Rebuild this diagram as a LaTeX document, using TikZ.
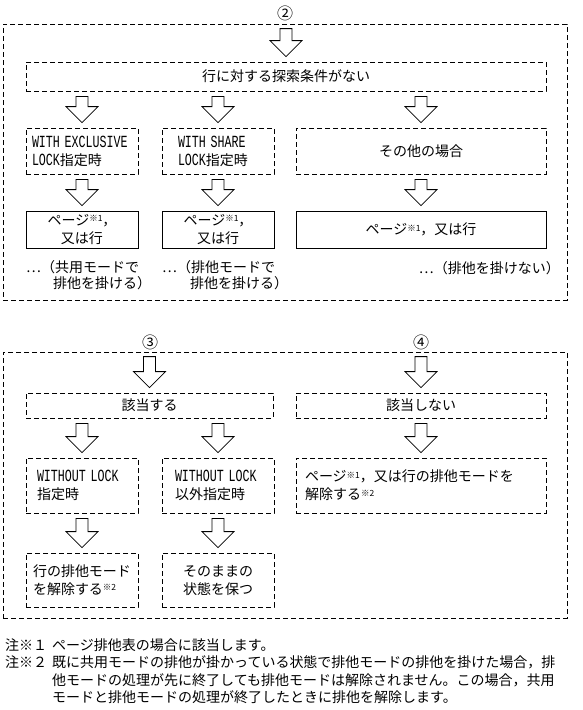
\documentclass[tikz,border=0pt]{standalone}
\usepackage{fontspec}
\setmainfont{Noto Sans CJK JP}
\newfontfamily\latfont[FakeStretch=0.686]{Liberation Mono}
\usetikzlibrary{calc}
\newcommand\LT[1]{{\latfont\fontsize{17pt}{18pt}\selectfont #1}}
\newcommand\kome[1]{\raisebox{3.5pt}{\fontsize{8.5pt}{8.5pt}\selectfont ※#1}}
\newcommand\blockarrow[2]{%
  \draw[barrow] let \p1=(#2.north), \p2=(#1) in
    (\x1-6pt,\y2-5pt) -- (\x1+6pt,\y2-5pt) -- (\x1+6pt,\y1+21pt)
    -- (\x1+16pt,\y1+21pt) -- (\x1,\y1+5pt) -- (\x1-16pt,\y1+21pt)
    -- (\x1-6pt,\y1+21pt) -- cycle;}
\tikzset{
  dbox/.style={draw, line width=0.8pt, dash pattern=on 5pt off 3pt, inner sep=0pt},
  sbox/.style={draw, line width=0.8pt, inner sep=0pt},
  barrow/.style={draw, line width=0.8pt, fill=white, line join=miter},
  txt/.style={inner sep=0pt, anchor=base west},
  txte/.style={inner sep=0pt, anchor=base east},
  num/.style={inner sep=0pt, font=\fontsize{16pt}{16pt}\selectfont},
}
\begin{document}
\begin{tikzpicture}[x=1pt, y=-1pt, font=\fontsize{14pt}{18pt}\selectfont]
\useasboundingbox (0,0) rectangle (582,710);
% ---- section 2
\node[dbox, minimum width=564pt, minimum height=276pt] (o2) at (285,162) {};
\node[num] (c2) at (285,13) {②};
\node[dbox, minimum width=520pt, minimum height=29pt] (q) at (286,76.5) {行に対する探索条件がない};
\node[dbox, minimum width=112pt, minimum height=46pt, text width=100pt, align=left] (a1) at (82,151) {\LT{WITH EXCLUSIVE}\\\LT{LOCK}指定時};
\node[dbox, minimum width=112pt, minimum height=46pt, text width=80pt, align=left] (a2) at (218,151) {\LT{WITH SHARE}\\\LT{LOCK}指定時};
\node[dbox, minimum width=250pt, minimum height=46pt] (a3) at (421,151) {その他の場合};
\node[sbox, minimum width=112pt, minimum height=37pt, align=center] (b1) at (82,229.5) {ページ\kome{1}，\\又は行};
\node[sbox, minimum width=112pt, minimum height=37pt, align=center] (b2) at (218,229.5) {ページ\kome{1}，\\又は行};
\node[sbox, minimum width=250pt, minimum height=37pt] (b3) at (421,229.5) {ページ\kome{1}，又は行};
\node[txt] (n1a) at (26,272) {…（共用モードで};
\node[txt] (n1b) at (53,288) {排他を掛ける）};
\node[txt] (n2a) at (162,272) {…（排他モードで};
\node[txt] (n2b) at (190,288) {排他を掛ける）};
\node[txte] (n3) at (560,273) {…（排他を掛けない）};
\blockarrow{o2.north}{q}
\blockarrow{q.south}{a1}
\blockarrow{q.south}{a2}
\blockarrow{q.south}{a3}
\blockarrow{a1.south}{b1}
\blockarrow{a2.south}{b2}
\blockarrow{a3.south}{b3}
% ---- section 3/4
\node[dbox, minimum width=564pt, minimum height=266pt] (o3) at (285,485) {};
\node[num] (c3) at (150,342) {③};
\node[num] (c4) at (421,342) {④};
\node[dbox, minimum width=247pt, minimum height=25pt] (r) at (149.5,405.5) {該当する};
\node[dbox, minimum width=250pt, minimum height=25pt] (s) at (421,405.5) {該当しない};
\node[dbox, minimum width=112pt, minimum height=55pt, text width=90pt, align=left] (r1) at (82,485.5) {\LT{WITHOUT LOCK}\\指定時};
\node[dbox, minimum width=112pt, minimum height=55pt, text width=86pt, align=left] (r2) at (218,485.5) {\LT{WITHOUT LOCK}\\以外指定時};
\node[dbox, minimum width=250pt, minimum height=55pt, text width=232pt, align=left] (s1) at (421,485.5) {ページ\kome{1}，又は行の排他モードを\\解除する\kome{2}};
\node[dbox, minimum width=112pt, minimum height=54pt, text width=98pt, align=left] (t1) at (82,580) {行の排他モード\\を解除する\kome{2}};
\node[dbox, minimum width=112pt, minimum height=54pt, align=center] (t2) at (218,580) {そのままの\\状態を保つ};
\blockarrow{o3.north}{r}
\blockarrow{o3.north}{s}
\blockarrow{r.south}{r1}
\blockarrow{r.south}{r2}
\blockarrow{s.south}{s1}
\blockarrow{r1.south}{t1}
\blockarrow{r2.south}{t2}
% ---- footnotes
\node[txt] (f1) at (5,650) {注※１};
\node[txt] (f1t) at (52,650) {ページ排他表の場合に該当します。};
\node[txt] (f2) at (5,667) {注※２};
\node[txt] (f2t) at (52,667) {既に共用モードの排他が掛かっている状態で排他モードの排他を掛けた場合，排};
\node[txt] (f2u) at (52,685) {他モードの処理が先に終了しても排他モードは解除されません。この場合，共用};
\node[txt] (f2v) at (52,702) {モードと排他モードの処理が終了したときに排他を解除します。};
\end{tikzpicture}
\end{document}
